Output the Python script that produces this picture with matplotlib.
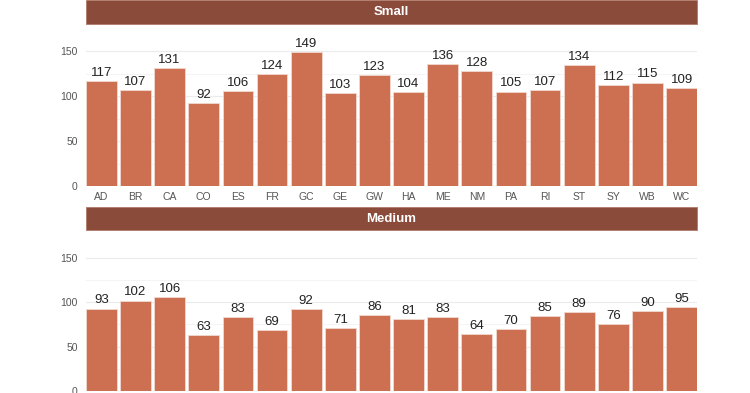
import matplotlib
matplotlib.use("Agg")
import matplotlib.pyplot as plt
from matplotlib.patches import Rectangle

plt.rcParams['font.family'] = ['Liberation Sans', 'DejaVu Sans']

categories = ["AD", "BR", "CA", "CO", "ES", "FR", "GC", "GE", "GW", "HA",
              "ME", "NM", "PA", "RI", "ST", "SY", "WB", "WC"]
small_values = [117, 107, 131, 92, 106, 124, 149, 103, 123, 104,
                136, 128, 105, 107, 134, 112, 115, 109]
medium_values = [93, 102, 106, 63, 83, 69, 92, 71, 86, 81,
                 83, 64, 70, 85, 89, 76, 90, 95]
panel_titles = ["Small", "Medium"]
y_ticks = [0, 50, 100, 150]

W, H = 750, 393
BAR = "#CD7052"
STRIP = "#8B4B3A"

fig = plt.figure(figsize=(W / 100, H / 100), dpi=100)


def px_rect(x0, y0, x1, y1):
    # pixel coords (top-left origin) -> figure fraction [l, b, w, h]
    return [x0 / W, 1 - y1 / H, (x1 - x0) / W, (y1 - y0) / H]


def panel(values, title, strip_top, strip_bot, ax_top, ax_bot, show_x):
    l, b, w, h = px_rect(86, strip_top, 697, strip_bot)
    fig.patches.append(Rectangle((l, b), w, h, transform=fig.transFigure,
                                 facecolor=STRIP, edgecolor="#B07A6A",
                                 linewidth=0.6, zorder=0))
    fig.text(l + w / 2, b + h / 2, title, color="white", fontsize=9.5,
             fontweight="bold", ha="center", va="center")

    ax = fig.add_axes(px_rect(86, ax_top, 697, ax_bot))
    x = list(range(len(categories)))
    ax.bar(x, values, width=0.9, color=BAR, edgecolor="#F3D9CF",
           linewidth=0.6, zorder=3)
    for xi, v in zip(x, values):
        ax.annotate(str(v), (xi, v), xytext=(0, 1.5),
                    textcoords="offset points", ha="center", va="bottom",
                    fontsize=9.5, color="#222222", clip_on=False, zorder=4)
    ax.set_xlim(-0.45, len(categories) - 0.55)
    ax.set_ylim(0, 160)
    ax.set_yticks(y_ticks)
    ax.set_yticks([25, 75, 125], minor=True)
    ax.grid(axis="y", which="major", color="#EBEBEB", linewidth=0.8, zorder=0)
    ax.grid(axis="y", which="minor", color="#F3F3F3", linewidth=0.6, zorder=0)
    ax.set_axisbelow(True)
    for s in ax.spines.values():
        s.set_visible(False)
    ax.tick_params(axis="both", which="both", length=0, labelsize=7.5,
                   labelcolor="#555555")
    ax.tick_params(axis="y", pad=6)
    ax.set_xticks(x)
    if show_x:
        ax.set_xticklabels(categories)
        ax.tick_params(axis="x", pad=4)
    else:
        ax.set_xticklabels([])
    return ax


panel(small_values, panel_titles[0], 0.5, 24, 186 - 160 * 0.9, 186, True)
panel(medium_values, panel_titles[1], 207, 230, 391 - 160 * 0.8867, 391, False)

fig.savefig("out.png", dpi=100)
